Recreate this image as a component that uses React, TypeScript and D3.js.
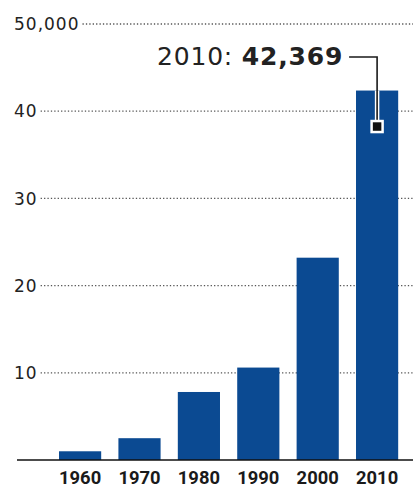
import React, { useEffect, useRef } from "react";
import * as d3 from "d3";

const years = ["1960", "1970", "1980", "1990", "2000", "2010"];
const values = [1000, 2500, 7800, 10600, 23200, 42369];
const tickValues = [10000, 20000, 30000, 40000, 50000];
const tickLabels = ["10", "20", "30", "40", "50,000"];
const annotationPrefix = "2010: ";
const annotationValue = "42,369";

const W = 413;
const H = 489;

export default function App() {
  const ref = useRef<SVGSVGElement | null>(null);

  useEffect(() => {
    const svg = d3.select(ref.current);
    svg.selectAll("*").remove();

    const y = d3.scaleLinear().domain([0, 50000]).range([460, 24]);
    const x = d3
      .scaleBand<string>()
      .domain(years)
      .range([50.4, 406.8])
      .paddingInner(0.29)
      .paddingOuter(0.145);

    // tick labels + dotted gridlines
    const gTicks = svg.append("g");
    tickValues.forEach((v, i) => {
      const t = gTicks
        .append("text")
        .attr("x", 14)
        .attr("y", y(v))
        .attr("dy", "0.36em")
        .attr("font-family", "DejaVu Sans, sans-serif")
        .attr("font-size", 17)
        .attr("letter-spacing", 1)
        .attr("fill", "#222")
        .text(tickLabels[i]);
      const len = (t.node() as SVGTextElement).getComputedTextLength();
      gTicks
        .append("line")
        .attr("x1", 14 + len + 3)
        .attr("x2", W)
        .attr("y1", y(v))
        .attr("y2", y(v))
        .attr("stroke", "#555")
        .attr("stroke-width", 1.3)
        .attr("stroke-dasharray", "1.3 2.1");
    });

    // bars
    svg
      .append("g")
      .selectAll("rect")
      .data(values)
      .join("rect")
      .attr("x", (_, i) => x(years[i]) as number)
      .attr("y", (d) => y(d))
      .attr("width", x.bandwidth())
      .attr("height", (d) => y(0) - y(d))
      .attr("fill", "#0b4a92");

    // baseline
    svg
      .append("line")
      .attr("x1", 17)
      .attr("x2", W)
      .attr("y1", y(0))
      .attr("y2", y(0))
      .attr("stroke", "#111")
      .attr("stroke-width", 1.6);

    // x labels
    svg
      .append("g")
      .selectAll("text")
      .data(years)
      .join("text")
      .attr("x", (d) => (x(d) as number) + x.bandwidth() / 2)
      .attr("y", 484)
      .attr("text-anchor", "middle")
      .attr("font-family", "Liberation Sans Narrow, Roboto, sans-serif")
      .attr("font-weight", 700)
      .attr("font-size", 19)
      .attr("textLength", x.bandwidth())
      .attr("lengthAdjust", "spacingAndGlyphs")
      .attr("fill", "#1a1a1a")
      .text((d) => d);

    // annotation for last bar
    const last = values.length - 1;
    const cx = (x(years[last]) as number) + x.bandwidth() / 2;
    const topY = y(values[last]);
    const textY = 65;
    const lineY = 57;
    const sqY = topY + 36;

    const ann = svg
      .append("text")
      .attr("x", cx - 34)
      .attr("y", textY)
      .attr("text-anchor", "end")
      .attr("font-family", "DejaVu Sans, sans-serif")
      .attr("font-size", 25)
      .attr("letter-spacing", 0.8)
      .attr("fill", "#222");
    ann.append("tspan").text(annotationPrefix);
    ann.append("tspan").attr("font-weight", 700).text(annotationValue);

    const path = `M${cx - 28},${lineY} H${cx} V${sqY}`;
    svg
      .append("path")
      .attr("d", `M${cx},${topY} V${sqY}`)
      .attr("fill", "none")
      .attr("stroke", "#fff")
      .attr("stroke-width", 4.5);
    svg
      .append("path")
      .attr("d", path)
      .attr("fill", "none")
      .attr("stroke", "#1a1a1a")
      .attr("stroke-width", 1.6);
    svg
      .append("rect")
      .attr("x", cx - 5.5)
      .attr("y", sqY - 5.5)
      .attr("width", 11)
      .attr("height", 11)
      .attr("fill", "#111")
      .attr("stroke", "#fff")
      .attr("stroke-width", 2.5);
  }, []);

  return (
    <svg
      ref={ref}
      width={W}
      height={H}
      style={{ position: "absolute", left: 0, top: 0, background: "#fff" }}
    />
  );
}
